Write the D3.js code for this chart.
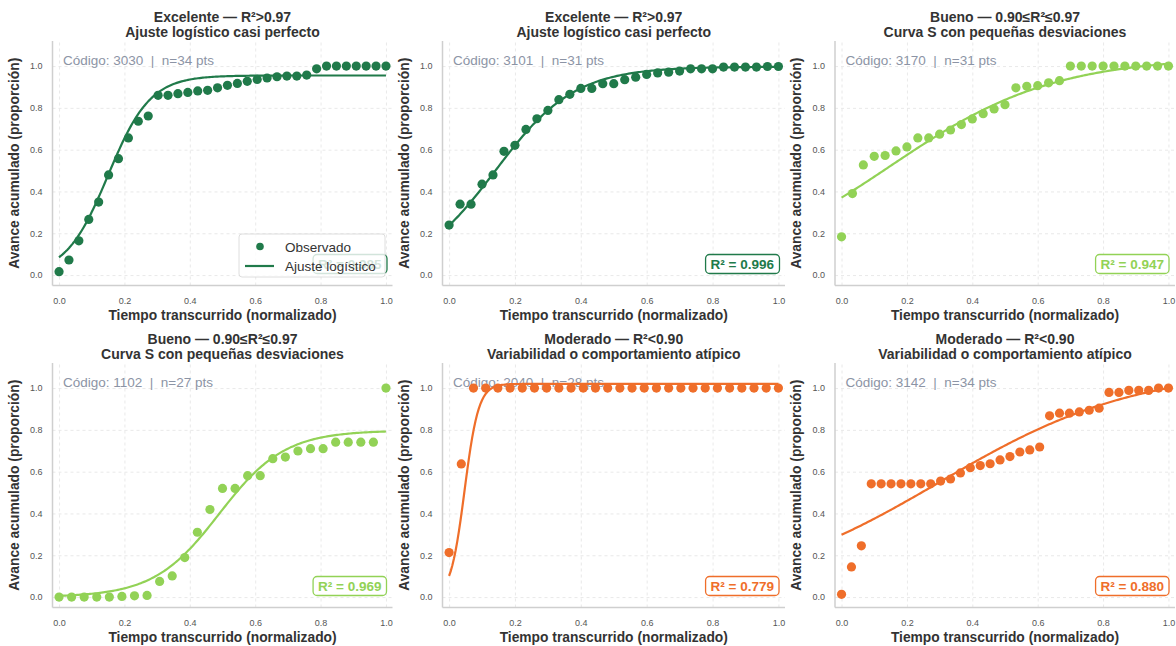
<!DOCTYPE html>
<html>
<head>
<meta charset="utf-8">
<script src="https://cdn.jsdelivr.net/npm/d3@7"></script>
<style>
  body { margin: 0; background: #fff; }
  svg { font-family: "Liberation Sans", Arial, sans-serif; }
</style>
</head>
<body>
<div id="chart"></div>
<script>
// ---- data ----
var titles1 = ["Excelente — R²>0.97", "Excelente — R²>0.97", "Bueno — 0.90≤R²≤0.97",
               "Bueno — 0.90≤R²≤0.97", "Moderado — R²<0.90", "Moderado — R²<0.90"];
var titles2 = ["Ajuste logístico casi perfecto", "Ajuste logístico casi perfecto", "Curva S con pequeñas desviaciones",
               "Curva S con pequeñas desviaciones", "Variabilidad o comportamiento atípico", "Variabilidad o comportamiento atípico"];
var codes = ["3030", "3101", "3170", "1102", "2040", "3142"];
var r2 = ["0.985", "0.996", "0.947", "0.969", "0.779", "0.880"];
var colors = ["#207a4a", "#207a4a", "#92d256", "#92d256", "#ef6e2a", "#ef6e2a"];

var obs3030 = [0.016, 0.072, 0.164, 0.266, 0.349, 0.479, 0.557, 0.656, 0.736, 0.761, 0.860, 0.860,
               0.868, 0.874, 0.881, 0.884, 0.896, 0.908, 0.917, 0.927, 0.936, 0.943, 0.949, 0.952,
               0.952, 0.957, 0.987, 1.0, 1.0, 1.0, 1.0, 1.0, 1.0, 1.0];
var obs3101 = [0.239, 0.339, 0.339, 0.435, 0.479, 0.592, 0.621, 0.697, 0.748, 0.788, 0.839, 0.865,
               0.893, 0.893, 0.916, 0.916, 0.935, 0.947, 0.960, 0.967, 0.971, 0.976, 0.987, 0.987,
               0.987, 0.995, 0.995, 0.995, 0.995, 0.998, 0.998];
var obs3170 = [0.183, 0.390, 0.527, 0.568, 0.572, 0.594, 0.613, 0.656, 0.656, 0.674, 0.694, 0.720,
               0.747, 0.772, 0.795, 0.815, 0.896, 0.903, 0.906, 0.920, 0.930, 1.0, 1.0, 1.0,
               1.0, 1.0, 1.0, 1.0, 1.0, 1.0, 1.0];
var obs1102 = [0.0, 0.0, 0.0, 0.0, 0.0, 0.003, 0.006, 0.008, 0.075, 0.101, 0.189, 0.310,
               0.419, 0.520, 0.520, 0.581, 0.581, 0.662, 0.670, 0.699, 0.710, 0.710, 0.741, 0.741,
               0.741, 0.741, 1.0];
var obs2040 = [0.213, 0.637, 1.0, 1.0, 1.0, 1.0, 1.0, 1.0, 1.0, 1.0, 1.0, 1.0, 1.0, 1.0,
               1.0, 1.0, 1.0, 1.0, 1.0, 1.0, 1.0, 1.0, 1.0, 1.0, 1.0, 1.0, 1.0, 1.0];
var obs3142 = [0.013, 0.144, 0.245, 0.542, 0.542, 0.542, 0.542, 0.542, 0.542, 0.542, 0.555, 0.565,
               0.594, 0.619, 0.629, 0.638, 0.656, 0.672, 0.694, 0.704, 0.718, 0.867, 0.880, 0.880,
               0.886, 0.894, 0.904, 0.979, 0.979, 0.989, 0.989, 0.989, 1.0, 1.0];
var observed = [obs3030, obs3101, obs3170, obs1102, obs2040, obs3142];

// fitted logistic parameters: L / (1 + exp(-k (t - t0)))
var fitL  = [0.955, 0.997, 1.045, 0.797, 1.02, 1.10];
var fitK  = [15.5, 8.3, 4.0, 10.0, 47.0, 3.3];
var fitT0 = [0.15, 0.14, 0.15, 0.49, 0.047, 0.30];

var xTicks = [0, 0.2, 0.4, 0.6, 0.8, 1.0];
var yTicks = [0, 0.2, 0.4, 0.6, 0.8, 1.0];

// ---- layout ----
var cols = [{left: 52.5, right: 392.5}, {left: 442.5, right: 785}, {left: 835, right: 1175}];
var rows = [{top: 41, bottom: 285.5}, {top: 363, bottom: 607.5}];

var svg = d3.select("#chart").append("svg")
  .attr("width", 1176)
  .attr("height", 646);

observed.forEach(function(vals, p) {
  var c = cols[p % 3], r = rows[Math.floor(p / 3)];
  var color = colors[p];
  var x = d3.scaleLinear().domain([-0.02, 1.02]).range([c.left, c.right]);
  var y = d3.scaleLinear().domain([-0.05, 1.12]).range([r.bottom, r.top]);
  var g = svg.append("g");
  var cx = (c.left + c.right) / 2;

  // grid + tick labels
  var xa = g.append("g").attr("transform", "translate(0," + r.bottom + ")")
    .call(d3.axisBottom(x).tickValues(xTicks).tickFormat(d3.format(".1f"))
      .tickSizeInner(-(r.bottom - r.top)).tickSizeOuter(0).tickPadding(12));
  var ya = g.append("g").attr("transform", "translate(" + c.left + ",0)")
    .call(d3.axisLeft(y).tickValues(yTicks).tickFormat(d3.format(".1f"))
      .tickSizeInner(-(c.right - c.left)).tickSizeOuter(0).tickPadding(10));
  [xa, ya].forEach(function(a) {
    a.select(".domain").remove();
    a.selectAll("line").attr("stroke", "#e3e3e3").attr("stroke-width", 0.8).attr("stroke-dasharray", "3,3");
    a.selectAll("text").attr("fill", "#555").style("font-size", "9px");
  });

  // spines
  g.append("line").attr("x1", c.left).attr("x2", c.left).attr("y1", r.top).attr("y2", r.bottom)
    .attr("stroke", "#cfcfcf").attr("stroke-width", 1.5);
  g.append("line").attr("x1", c.left).attr("x2", c.right).attr("y1", r.bottom).attr("y2", r.bottom)
    .attr("stroke", "#cfcfcf").attr("stroke-width", 1.5);

  // titles
  g.append("text").attr("x", cx).attr("y", r.top - 19.5).attr("text-anchor", "middle")
    .attr("fill", "#333").style("font-size", "14px").style("font-weight", "bold").text(titles1[p]);
  g.append("text").attr("x", cx).attr("y", r.top - 4.5).attr("text-anchor", "middle")
    .attr("fill", "#333").style("font-size", "14px").style("font-weight", "bold").text(titles2[p]);

  // axis labels
  g.append("text").attr("x", cx).attr("y", r.bottom + 34).attr("text-anchor", "middle")
    .attr("fill", "#333").style("font-size", "13.8px").style("font-weight", "bold")
    .text("Tiempo transcurrido (normalizado)");
  g.append("text").attr("transform", "translate(" + (c.left - 34) + "," + ((r.top + r.bottom) / 2) + ") rotate(-90)")
    .attr("text-anchor", "middle").attr("fill", "#333").style("font-size", "13.8px").style("font-weight", "bold")
    .text("Avance acumulado (proporción)");

  // code annotation
  g.append("text").attr("x", c.left + 10.5).attr("y", r.top + 24)
    .attr("fill", "#8c94a5").style("font-size", "13.5px").style("white-space", "pre")
    .text("Código: " + codes[p] + "  |  n=" + vals.length + " pts");

  // fitted curve
  var L = fitL[p], k = fitK[p], t0 = fitT0[p];
  var curve = d3.range(0, 201).map(function(i) {
    var t = i / 200;
    return [t, L / (1 + Math.exp(-k * (t - t0)))];
  });
  g.append("path").datum(curve)
    .attr("d", d3.line().x(function(d) { return x(d[0]); }).y(function(d) { return y(d[1]); }))
    .attr("fill", "none").attr("stroke", color).attr("stroke-width", 2.2);

  // observed points
  var n = vals.length;
  g.selectAll("circle.obs").data(vals).enter().append("circle")
    .attr("class", "obs")
    .attr("cx", function(d, i) { return x(i / (n - 1)); })
    .attr("cy", function(d) { return y(d); })
    .attr("r", 4.6)
    .attr("fill", color);

  // R² box
  var lbl = g.append("text").attr("text-anchor", "end")
    .attr("x", c.right - 11).attr("y", r.bottom - 17)
    .attr("fill", color).style("font-size", "13.5px").style("font-weight", "bold")
    .text("R² = " + r2[p]);
  var bb = lbl.node().getBBox();
  g.insert("rect", function() { return lbl.node(); })
    .attr("x", bb.x - 5).attr("y", bb.y - 2).attr("width", bb.width + 10).attr("height", bb.height + 4)
    .attr("rx", 4).attr("fill", "#fff").attr("stroke", color).attr("stroke-width", 1.3);

  // legend only on the first panel
  if (p === 0) {
    var lg = g.append("g");
    lg.append("rect").attr("x", 239).attr("y", 234).attr("width", 146).attr("height", 43)
      .attr("rx", 3).attr("fill", "#fff").attr("fill-opacity", 0.8)
      .attr("stroke", "#d5d5d5").attr("stroke-width", 0.8);
    lg.append("circle").attr("cx", 260).attr("cy", 246.5).attr("r", 3.8).attr("fill", color);
    lg.append("line").attr("x1", 245).attr("x2", 274).attr("y1", 266).attr("y2", 266)
      .attr("stroke", color).attr("stroke-width", 2.2);
    lg.append("text").attr("x", 285).attr("y", 251.5).attr("fill", "#333").style("font-size", "13.5px").text("Observado");
    lg.append("text").attr("x", 285).attr("y", 271).attr("fill", "#333").style("font-size", "13.5px").text("Ajuste logístico");
  }
});
</script>
</body>
</html>
